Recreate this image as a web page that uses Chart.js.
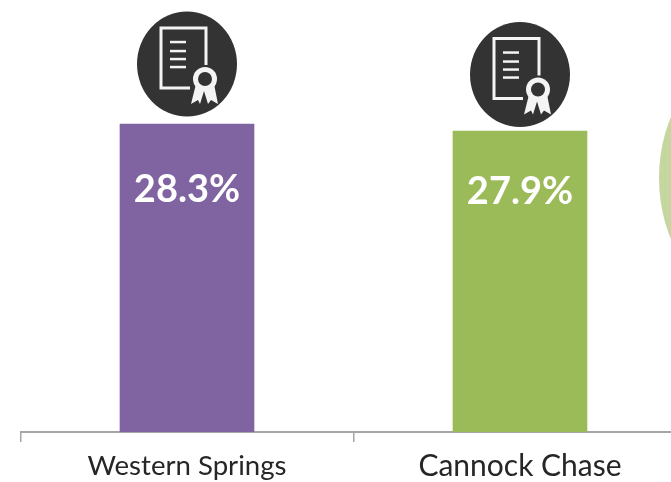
<!DOCTYPE html>
<html><head><meta charset="utf-8">
<style>html,body{margin:0;padding:0;background:#fff;overflow:hidden;width:671px;height:482px}
#wrap{position:relative;width:671px;height:482px;overflow:hidden}
canvas{display:block}</style>
<script src="https://cdn.jsdelivr.net/npm/chart.js@4"></script></head>
<body><div id="wrap"><canvas id="c"></canvas></div>
<script>
const categories = ["Western Springs", "Cannock Chase"];
const values = [28.3, 27.9];
const barColors = ["#8064A2", "#9BBB59"];
const valueLabels = ["28.3%", "27.9%"];
const tickSizes = [27.6, 30];
const iconGaps = [60, 56.5];
const labelDrops = [66, 61];
const yMin = 10.7, yMax = 35.39;

function drawIcon(ctx, cx, cy) {
  ctx.save();
  ctx.fillStyle = "#333333";
  ctx.beginPath(); ctx.ellipse(cx, cy, 50, 52.5, 0, 0, Math.PI * 2); ctx.fill();
  ctx.strokeStyle = "#F4F4F4"; ctx.lineWidth = 3; ctx.lineCap = "butt";
  ctx.beginPath();
  ctx.moveTo(cx + 3, cy + 24); ctx.lineTo(cx - 26, cy + 24); ctx.lineTo(cx - 26, cy - 36);
  ctx.lineTo(cx + 19, cy - 36); ctx.lineTo(cx + 19, cy + 1);
  ctx.stroke();
  ctx.lineWidth = 2.5;
  [-22, -13, -5, 3].forEach(d => { ctx.beginPath(); ctx.moveTo(cx - 17, cy + d); ctx.lineTo(cx - 1, cy + d); ctx.stroke(); });
  ctx.fillStyle = "#F4F4F4";
  ctx.beginPath();
  ctx.moveTo(cx + 9, cy + 20); ctx.lineTo(cx + 4, cy + 40); ctx.lineTo(cx + 11, cy + 36); ctx.lineTo(cx + 13, cy + 40);
  ctx.lineTo(cx + 17, cy + 27); ctx.lineTo(cx + 21, cy + 40); ctx.lineTo(cx + 24, cy + 36); ctx.lineTo(cx + 31, cy + 40); ctx.lineTo(cx + 27, cy + 20);
  ctx.closePath(); ctx.fill();
  ctx.beginPath(); ctx.arc(cx + 18, cy + 15, 12, 0, Math.PI * 2); ctx.fill();
  ctx.fillStyle = "#333333";
  ctx.beginPath(); ctx.arc(cx + 18, cy + 15, 7, 0, Math.PI * 2); ctx.fill();
  ctx.restore();
}

const decor = {
  id: "decor",
  afterDatasetsDraw(chart) {
    const { ctx, scales: { x, y } } = chart;
    ctx.save();
    ctx.fillStyle = "#C5D79F";
    ctx.beginPath(); ctx.ellipse(745, 178, 86, 120, 0, 0, Math.PI * 2); ctx.fill();
    ctx.restore();
    values.forEach((v, i) => {
      const cx = x.getPixelForValue(i), top = y.getPixelForValue(v);
      drawIcon(ctx, cx, top - iconGaps[i]);
      ctx.save();
      ctx.fillStyle = "#fff";
      ctx.font = "bold 38px Lato, sans-serif";
      ctx.textAlign = "center"; ctx.textBaseline = "middle";
      ctx.fillText(valueLabels[i], cx, top + labelDrops[i]);
      ctx.restore();
    });
  }
};

const canvas = document.getElementById("c");
canvas.style.width = "1000px"; canvas.style.height = "491px";
new Chart(canvas, {
  type: "bar",
  data: { labels: categories, datasets: [{ data: values, backgroundColor: barColors, barThickness: 134 }] },
  options: {
    responsive: false, animation: false,
    layout: { padding: { left: 20.5, right: 313.5, top: 0, bottom: 0 } },
    plugins: { legend: { display: false }, tooltip: { enabled: false } },
    scales: {
      y: { display: false, min: yMin, max: yMax },
      x: {
        grid: { drawOnChartArea: false, drawTicks: true, tickLength: 10, color: "#A6A6A6", lineWidth: 1.5 },
        border: { color: "#A6A6A6", width: 2 },
        ticks: { color: "#262626", font: c => ({ family: "Lato, sans-serif", size: tickSizes[c.index], lineHeight: "33px" }), padding: 8, maxRotation: 0 }
      }
    }
  },
  plugins: [decor]
});
</script></body></html>
